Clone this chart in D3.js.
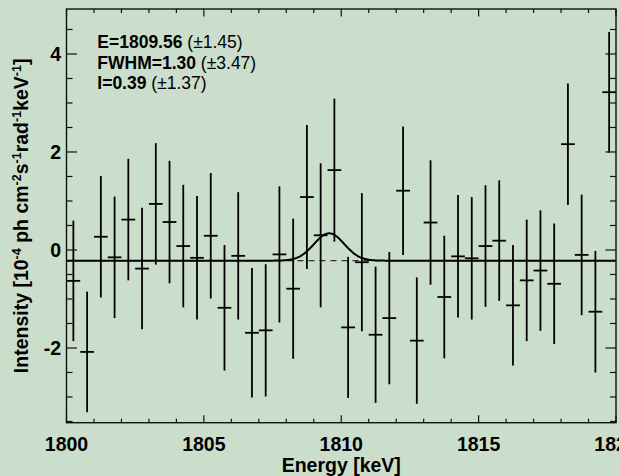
<!DOCTYPE html>
<html>
<head>
<meta charset="utf-8">
<script src="https://cdn.jsdelivr.net/npm/d3@7"></script>
<style>
  html, body { margin: 0; padding: 0; background: #cbdecc; }
  svg { display: block; }
  text { font-family: "Liberation Sans", Arial, Helvetica, sans-serif; fill: #000; }
</style>
</head>
<body>
<div id="chart"></div>
<script>
// Bin centres [keV]
const energy = [
  1800.25, 1800.75, 1801.25, 1801.75, 1802.25, 1802.75, 1803.25, 1803.75, 1804.25, 1804.75,
  1805.25, 1805.75, 1806.25, 1806.75, 1807.25, 1807.75, 1808.25, 1808.75, 1809.25, 1809.75,
  1810.25, 1810.75, 1811.25, 1811.75, 1812.25, 1812.75, 1813.25, 1813.75, 1814.25, 1814.75,
  1815.25, 1815.75, 1816.25, 1816.75, 1817.25, 1817.75, 1818.25, 1818.75, 1819.25, 1819.75
];
// Intensity [1e-4 ph cm^-2 s^-1 rad^-1 keV^-1]
const intensity = [
  -0.63, -2.08, 0.27, -0.15, 0.62, -0.38, 0.94, 0.57, 0.08, -0.16,
  0.29, -1.18, -0.12, -1.69, -1.64, -0.09, -0.79, 1.08, 0.30, 1.63,
  -1.58, -0.25, -1.73, -1.39, 1.21, -1.85, 0.56, -0.96, -0.13, -0.17,
  0.08, 0.19, -1.13, -0.62, -0.42, -0.69, 2.16, -0.10, -1.26, 3.22
];
// 1-sigma errors
const errors = [
  1.23, 1.23, 1.24, 1.24, 1.24, 1.24, 1.24, 1.25, 1.25, 1.26,
  1.28, 1.28, 1.30, 1.32, 1.35, 1.39, 1.43, 1.47, 1.47, 1.46,
  1.44, 1.41, 1.39, 1.35, 1.31, 1.29, 1.27, 1.25, 1.25, 1.25,
  1.24, 1.23, 1.23, 1.24, 1.23, 1.23, 1.24, 1.23, 1.24, 1.23
];
const binWidth = 0.5;

// Fitted line model: continuum + gaussian
const fitContinuum = -0.218;
const fitCentre = 1809.56;
const fitFwhm = 1.30;
const fitPeak = 0.558;

const xTicks = [1800, 1805, 1810, 1815, 1820];
const yTicks = [-2, 0, 2, 4];

const W = 619, H = 476;
const plot = {left: 66.5, right: 616, top: 9, bottom: 422.7};

const svg = d3.select("#chart").append("svg")
    .attr("width", W)
    .attr("height", H);

svg.append("rect").attr("width", W).attr("height", H).attr("fill", "#cbdecc");

const x = d3.scaleLinear().domain([1800, 1820]).range([plot.left, plot.right]);
const y = d3.scaleLinear().domain([-3.525, 4.918]).range([plot.bottom, plot.top]);

// Ticks (all drawn inside the frame)
const xMinor = d3.range(1800, 1821, 1);
const yMinor = d3.range(-3.5, 4.91, 0.5);
const tickG = svg.append("g").attr("stroke", "#111").attr("stroke-width", 1.2);

xMinor.forEach(v => {
    const len = xTicks.includes(v) ? 7.5 : 4;
    tickG.append("line").attr("x1", x(v)).attr("x2", x(v))
        .attr("y1", plot.bottom).attr("y2", plot.bottom - len);
    tickG.append("line").attr("x1", x(v)).attr("x2", x(v))
        .attr("y1", plot.top).attr("y2", plot.top + len);
});
yMinor.forEach(v => {
    const len = yTicks.includes(v) ? 10.5 : 6;
    tickG.append("line").attr("x1", plot.left).attr("x2", plot.left + len)
        .attr("y1", y(v)).attr("y2", y(v));
    tickG.append("line").attr("x1", plot.right).attr("x2", plot.right - len)
        .attr("y1", y(v)).attr("y2", y(v));
});

// Tick labels
svg.append("g").selectAll("text")
    .data(xTicks)
    .join("text")
    .attr("x", d => x(d))
    .attr("y", 450.7)
    .attr("text-anchor", "middle")
    .attr("font-size", 19.5)
    .attr("font-weight", "bold")
    .text(d => d);

svg.append("g").selectAll("text")
    .data(yTicks)
    .join("text")
    .attr("x", 61)
    .attr("y", d => y(d) + 7)
    .attr("text-anchor", "end")
    .attr("font-size", 19.5)
    .attr("font-weight", "bold")
    .text(d => d);

// Axis titles
svg.append("text")
    .attr("x", x(1810))
    .attr("y", 472)
    .attr("text-anchor", "middle")
    .attr("font-size", 19.5)
    .attr("font-weight", "bold")
    .text("Energy [keV]");

const yTitle = svg.append("text")
    .attr("transform", `translate(28, ${(plot.top + plot.bottom) / 2}) rotate(-90)`)
    .attr("text-anchor", "middle")
    .attr("font-size", 19.5)
    .attr("font-weight", "bold");
const titleParts = [
    ["Intensity [10", false], ["-4", true], [" ph cm", false], ["-2", true],
    ["s", false], ["-1", true], ["rad", false], ["-1", true], ["keV", false], ["-1", true], ["]", false]
];
let raised = false;
titleParts.forEach(([t, sup]) => {
    const ts = yTitle.append("tspan").text(t);
    if (sup && !raised) { ts.attr("dy", -7).attr("font-size", 12.5); raised = true; }
    else if (sup) { ts.attr("font-size", 12.5); }
    else if (raised) { ts.attr("dy", 7); raised = false; }
});

// Continuum (dashed) and fitted curve
svg.append("line")
    .attr("x1", plot.left).attr("x2", plot.right)
    .attr("y1", y(fitContinuum)).attr("y2", y(fitContinuum))
    .attr("stroke", "#333")
    .attr("stroke-width", 1.3)
    .attr("stroke-dasharray", "6,5");

const sigma = fitFwhm / (2 * Math.sqrt(2 * Math.log(2)));
const curveE = d3.range(1800, 1820.001, 0.02);
const fitLine = d3.line()
    .x(e => x(e))
    .y(e => y(fitContinuum + fitPeak * Math.exp(-0.5 * Math.pow((e - fitCentre) / sigma, 2))));
svg.append("path")
    .datum(curveE)
    .attr("d", fitLine)
    .attr("fill", "none")
    .attr("stroke", "#000")
    .attr("stroke-width", 2);

// Data points with error bars
const pts = energy.map((e, i) => ({e: e, v: intensity[i], err: errors[i]}));
const ptG = svg.append("g").attr("stroke", "#000").attr("stroke-width", 1.8);
ptG.selectAll(".ebar")
    .data(pts)
    .join("line")
    .attr("class", "ebar")
    .attr("x1", d => x(d.e)).attr("x2", d => x(d.e))
    .attr("y1", d => y(d.v - d.err)).attr("y2", d => y(d.v + d.err));
ptG.selectAll(".hbar")
    .data(pts)
    .join("line")
    .attr("class", "hbar")
    .attr("x1", d => x(d.e - binWidth / 2)).attr("x2", d => x(d.e + binWidth / 2))
    .attr("y1", d => y(d.v)).attr("y2", d => y(d.v));

// Frame
svg.append("rect")
    .attr("x", plot.left).attr("y", plot.top)
    .attr("width", plot.right - plot.left).attr("height", plot.bottom - plot.top)
    .attr("fill", "none")
    .attr("stroke", "#111")
    .attr("stroke-width", 1.4);

// Fit result annotation
const notes = [
    ["E=1809.56", " (\u00b11.45)"],
    ["FWHM=1.30", " (\u00b13.47)"],
    ["I=0.39", " (\u00b11.37)"]
];
notes.forEach((n, i) => {
    const t = svg.append("text")
        .attr("x", 97.3)
        .attr("y", 48.3 + i * 20.2)
        .attr("font-size", 17.5);
    t.append("tspan").attr("font-weight", "bold").text(n[0]);
    t.append("tspan").text(n[1]);
});
</script>
</body>
</html>
